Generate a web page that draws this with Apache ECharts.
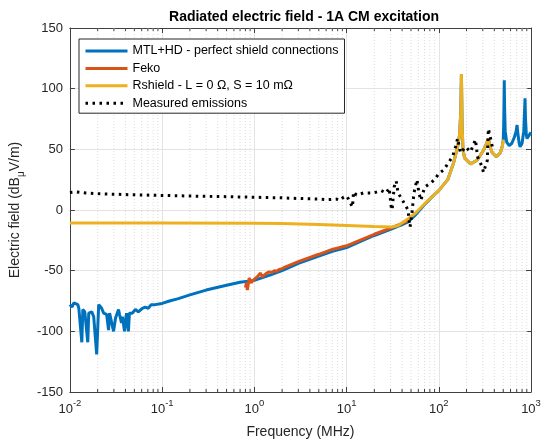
<!DOCTYPE html>
<html>
<head>
<meta charset="utf-8">
<script src="https://cdn.jsdelivr.net/npm/echarts@6/dist/echarts.min.js"></script>
<style>
  html, body { margin: 0; padding: 0; background: #fff; }
  #chart { width: 544px; height: 445px; }
</style>
</head>
<body>
<div id="chart"></div>
<script>
// MTL+HD - perfect shield connections
const blueFreq = [0.01, 0.01051, 0.01104, 0.01219, 0.0125, 0.01346, 0.0138, 0.0145, 0.01562, 0.016,
  0.01725, 0.01812, 0.01951, 0.02051, 0.02208, 0.02321, 0.025, 0.02625, 0.02692, 0.02829,
  0.02973, 0.03125, 0.03366, 0.03451, 0.03626, 0.03717, 0.03906, 0.04102, 0.04308, 0.04416,
  0.04753, 0.05123, 0.05521, 0.06095, 0.06564, 0.07068, 0.07614, 0.08408, 0.092, 0.1,
  0.12, 0.15, 0.2, 0.3, 0.5, 0.7, 1, 1.5, 2, 3, 5, 7, 10, 15, 20, 30, 40, 46, 56, 72,
  85, 100, 125, 145, 160, 168, 173, 176, 179, 183, 190, 221, 260, 305, 330, 345, 360, 381,
  421, 464, 490, 500, 506, 510, 513, 517, 525, 545, 580, 620, 660, 690, 706, 720, 745, 762,
  800, 835, 855, 861, 872, 890, 905, 950, 1000];
const blueVal = [-78, -80, -76.6, -78, -81, -109, -82, -84, -109, -85,
  -84, -88, -119, -78, -81, -85, -86, -99, -85, -86,
  -100, -89, -82, -86, -93, -88, -100, -85, -100, -85,
  -85, -82, -84, -81, -80, -81, -78, -78, -77.5, -77,
  -75, -73, -70, -66, -62, -59.5, -58, -53.5, -50, -44, -38, -34, -31, -25, -21, -16, -12, -10, -4, 5.5,
  11, 16, 25, 39, 52, 62, 80, 112, 70, 50, 43, 38, 41, 49, 55, 59, 52, 47,
  44, 47, 53, 58, 70, 90, 107, 85, 65, 56, 53, 55, 60, 65, 70, 63, 55, 52,
  55, 65, 85, 92, 75, 62, 59, 60, 64];

// Feko
const fekoFreq = [0.8, 0.82, 0.84, 0.88, 0.92, 0.95, 1.0, 1.08, 1.16, 1.22, 1.28, 1.36, 1.45,
  1.55, 1.65, 1.75, 1.86, 2.0, 2.15, 3, 5, 7, 10, 15, 20, 30, 40, 48];
const fekoVal = [-64, -60, -66, -56, -60, -61, -57, -55, -52, -55, -56, -52, -51,
  -51.5, -50, -50.5, -49, -48.3, -47, -42.5, -36.5, -32.5, -29.5, -24, -20, -15, -11, -8];

// Rshield - L = 0 Ohm, S = 10 mOhm
const rshFreq = [0.01, 0.1, 1, 2, 5, 10, 20, 31, 36, 41, 46, 56, 72, 85, 100, 125, 145, 160, 168,
  173, 176, 179, 183, 190, 221, 260, 305, 330, 345, 360, 381, 421, 464, 490, 500];
const rshVal = [-10.7, -10.7, -10.9, -11.2, -12, -12.7, -13.6, -14, -13, -10, -7.5, -2.5, 6, 11, 16, 25, 39, 52, 62,
  80, 112, 70, 50, 43, 38, 41, 49, 55, 59, 52, 47, 44, 47, 53, 58];

// Measured emissions
const measFreq = [0.01, 0.0115, 0.015, 0.02, 0.03, 0.05, 0.1, 0.2, 0.5, 1, 2, 3, 5, 6.1, 7.8, 8.5,
  9.3, 10, 10.5, 11, 11.6, 11.9, 12.8, 15.2, 19.5, 23.8, 26.9, 29, 30.5, 31.2, 32.8, 34.5,
  36.2, 39, 42, 46.4, 47.6, 48.8, 51.2, 53.8, 58, 60.9, 64, 67.3, 70.7, 81, 90, 100, 113,
  125, 141, 152, 160, 172, 195, 221, 250, 263, 297, 305, 336, 345, 362, 381];
const measVal = [14.5, 15, 14, 13.5, 13, 12.5, 12, 11.5, 11, 10.5, 10, 9.5, 9, 8.5, 9, 8,
  10.7, 11.5, 9, 5.8, 2.5, 15, 12.4, 14, 14, 16, 14, 18, 2.5, 0, 19, 24,
  14, 10, 5.8, 0, -8, -14, -2.5, 14, 25, 14, 8, 14, 19, 22, 25, 30, 33,
  38, 44, 52, 59, 47, 52, 48, 58, 44, 35, 31, 41, 67, 60, 52];

const xMin = 0.01, xMax = 1000;

// minor log grid positions (2..9 per decade)
const minorFreq = [];
for (let d = -2; d < 3; d++) {
  for (let m = 2; m <= 9; m++) minorFreq.push(+(m * Math.pow(10, d)).toPrecision(3));
}

const zip = (xs, ys) => xs.map((x, i) => [x, ys[i]]);
const txt = '#262626';
const axisCol = '#404040';

const myChart = echarts.init(document.getElementById('chart'), null, { renderer: 'canvas' });

const expLabel = (v) => {
  const e = Math.round(Math.log10(v));
  return '{b|10}{s|' + e + '}';
};

const option = {
  animation: false,
  backgroundColor: '#fff',
  title: {
    text: 'Radiated electric field - 1A CM excitation',
    left: 299,
    top: 5,
    textAlign: 'center',
    textStyle: { fontFamily: 'Liberation Sans', fontSize: 14, fontWeight: 'bold', color: '#000' }
  },
  legend: {
    orient: 'vertical',
    left: 79,
    top: 39,
    padding: [5, 6, 3, 5],
    itemGap: 3.4,
    itemWidth: 42,
    itemHeight: 14,
    backgroundColor: '#fff',
    borderColor: txt,
    borderWidth: 1,
    borderRadius: 0,
    itemStyle: { opacity: 0 },
    lineStyle: { width: 3 },
    textStyle: { fontFamily: 'Liberation Sans', fontSize: 12.5, color: '#000', lineHeight: 14 },
    data: ['MTL+HD - perfect shield connections', 'Feko', 'Rshield - L = 0 \u03A9, S = 10 m\u03A9', 'Measured emissions']
  },
  grid: { left: 67, right: 13, top: 28, bottom: 53, containLabel: false },
  xAxis: [{
    type: 'log',
    logBase: 10,
    min: xMin,
    max: xMax,
    splitNumber: 5,
    name: 'Frequency (MHz)',
    nameLocation: 'middle',
    nameGap: 33,
    nameTextStyle: { fontFamily: 'Liberation Sans', fontSize: 14, color: txt },
    axisLine: { show: true, onZero: false, lineStyle: { color: axisCol, width: 1 } },
    axisTick: { show: true, inside: true, length: 5, lineStyle: { color: axisCol } },
    axisLabel: {
      margin: 6,
      formatter: expLabel,
      rich: {
        b: { fontFamily: 'Liberation Sans', fontSize: 13, color: txt, lineHeight: 18, verticalAlign: 'bottom' },
        s: { fontFamily: 'Liberation Sans', fontSize: 9.5, color: txt, lineHeight: 9, verticalAlign: 'top' }
      }
    },
    splitLine: { show: true, lineStyle: { color: '#e3e3e3', width: 1 } }
  }, {
    type: 'log',
    logBase: 10,
    min: xMin,
    max: xMax,
    splitNumber: 5,
    position: 'top',
    axisLine: { show: true, onZero: false, lineStyle: { color: axisCol, width: 1 } },
    axisTick: { show: true, inside: true, length: 5, lineStyle: { color: axisCol } },
    axisLabel: { show: false },
    splitLine: { show: false }
  }],
  yAxis: [{
    type: 'value',
    min: -150,
    max: 150,
    interval: 50,
    name: '{n|Electric field (dB}{u|\u03BC}{n|V/m)}',
    nameLocation: 'middle',
    nameGap: 37,
    nameRotate: 90,
    nameTextStyle: {
      rich: {
        n: { fontFamily: 'Liberation Sans', fontSize: 14, color: txt, lineHeight: 16, verticalAlign: 'top' },
        u: { fontFamily: 'Liberation Sans', fontSize: 10, color: txt, lineHeight: 9, verticalAlign: 'bottom', padding: [0, 0, -2, 0] }
      }
    },
    axisLine: { show: true, onZero: false, lineStyle: { color: axisCol, width: 1 } },
    axisTick: { show: true, inside: true, length: 5, lineStyle: { color: axisCol } },
    axisLabel: { margin: 7, fontFamily: 'Liberation Sans', fontSize: 13, color: txt },
    splitLine: { show: true, lineStyle: { color: '#e3e3e3', width: 1 } }
  }, {
    type: 'value',
    min: -150,
    max: 150,
    interval: 50,
    position: 'right',
    axisLine: { show: true, onZero: false, lineStyle: { color: axisCol, width: 1 } },
    axisTick: { show: true, inside: true, length: 5, lineStyle: { color: axisCol } },
    axisLabel: { show: false },
    splitLine: { show: false }
  }],
  series: [
    {
      // minor grid lines and minor ticks
      type: 'custom',
      silent: true,
      z: 1,
      data: minorFreq.map(f => [f, 0]),
      encode: { x: 0, y: 1 },
      renderItem: function (params, api) {
        const xb = api.coord([api.value(0), -150]);
        const xt = api.coord([api.value(0), 150]);
        return {
          type: 'group',
          children: [
            { type: 'line', shape: { x1: xb[0], y1: xb[1], x2: xt[0], y2: xt[1] },
              style: { stroke: '#dcdcdc', lineWidth: 1, lineDash: [1, 2] } },
            { type: 'line', shape: { x1: xb[0], y1: xb[1], x2: xb[0], y2: xb[1] - 3 },
              style: { stroke: axisCol, lineWidth: 1 } },
            { type: 'line', shape: { x1: xt[0], y1: xt[1], x2: xt[0], y2: xt[1] + 3 },
              style: { stroke: axisCol, lineWidth: 1 } }
          ]
        };
      }
    },
    {
      name: 'MTL+HD - perfect shield connections',
      type: 'line',
      data: zip(blueFreq, blueVal),
      showSymbol: false,
      symbol: 'none',
      z: 3,
      lineStyle: { color: '#0072BD', width: 3 },
      itemStyle: { color: '#0072BD' }
    },
    {
      name: 'Feko',
      type: 'line',
      data: zip(fekoFreq, fekoVal),
      showSymbol: false,
      symbol: 'none',
      z: 4,
      lineStyle: { color: '#D95319', width: 3 },
      itemStyle: { color: '#D95319' }
    },
    {
      name: 'Rshield - L = 0 \u03A9, S = 10 m\u03A9',
      type: 'line',
      data: zip(rshFreq, rshVal),
      showSymbol: false,
      symbol: 'none',
      z: 5,
      lineStyle: { color: '#EDB120', width: 3 },
      itemStyle: { color: '#EDB120' }
    },
    {
      name: 'Measured emissions',
      type: 'line',
      data: zip(measFreq, measVal),
      showSymbol: false,
      symbol: 'none',
      z: 6,
      lineStyle: { color: '#000', width: 3, type: [2.5, 4.5] },
      itemStyle: { color: '#000' }
    }
  ]
};

myChart.setOption(option);
window.onresize = function () {
  myChart.resize();
};
</script>
</body>
</html>
